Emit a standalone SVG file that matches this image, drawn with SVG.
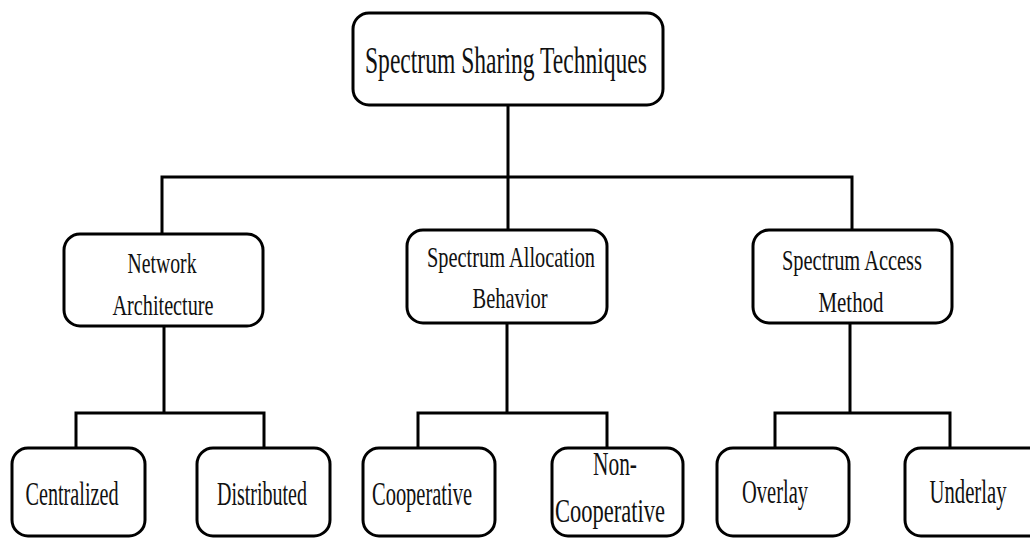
<svg xmlns="http://www.w3.org/2000/svg" width="1030" height="538" viewBox="0 0 1030 538">
<style>
.box{fill:#fff;stroke:#000;stroke-width:3}
.ln{fill:none;stroke:#000;stroke-width:3;stroke-linecap:square}
text{font-family:"Liberation Serif","Times New Roman",serif;fill:#111;text-anchor:middle}
.t0{font-size:38px}
.t1{font-size:30px}
.t2{font-size:33px}
</style>
<rect width="1030" height="538" fill="#fff"/>
<g id="connectors">
<path class="ln" d="M508 105V177M162 177H852M162 177V234M508 177V230M852 177V230"/>
<path class="ln" d="M164 326V413M76 413H264M76 413V448M264 413V448"/>
<path class="ln" d="M507 323V413M418 413H607M418 413V448M607 413V448"/>
<path class="ln" d="M850 323V413M775 413H950M775 413V450M950 413V448"/>
</g>
<g id="root">
<rect class="box" x="353" y="13" width="310" height="92" rx="16"/>
<text class="t0" x="506" y="73" textLength="282" lengthAdjust="spacingAndGlyphs">Spectrum Sharing Techniques</text>
</g>
<g id="network">
<rect class="box" x="64" y="234" width="199" height="92" rx="16"/>
<text class="t1" x="162" y="273" textLength="69" lengthAdjust="spacingAndGlyphs">Network</text>
<text class="t1" x="163" y="315" textLength="101" lengthAdjust="spacingAndGlyphs">Architecture</text>
</g>
<g id="allocation">
<rect class="box" x="407" y="230" width="200" height="93" rx="16"/>
<text class="t1" x="511" y="267" textLength="168" lengthAdjust="spacingAndGlyphs">Spectrum Allocation</text>
<text class="t1" x="510" y="308" textLength="75" lengthAdjust="spacingAndGlyphs">Behavior</text>
</g>
<g id="access">
<rect class="box" x="753" y="230" width="199" height="93" rx="16"/>
<text class="t1" x="852" y="270" textLength="140" lengthAdjust="spacingAndGlyphs">Spectrum Access</text>
<text class="t1" x="851" y="312" textLength="65" lengthAdjust="spacingAndGlyphs">Method</text>
</g>
<g id="centralized">
<rect class="box" x="12" y="448" width="133" height="88" rx="16"/>
<text class="t2" x="72" y="505" textLength="93" lengthAdjust="spacingAndGlyphs">Centralized</text>
</g>
<g id="distributed">
<rect class="box" x="197" y="448" width="133" height="88" rx="16"/>
<text class="t2" x="262" y="505" textLength="90" lengthAdjust="spacingAndGlyphs">Distributed</text>
</g>
<g id="cooperative">
<rect class="box" x="363" y="448" width="132" height="88" rx="16"/>
<text class="t2" x="422" y="505" textLength="100" lengthAdjust="spacingAndGlyphs">Cooperative</text>
</g>
<g id="noncooperative">
<rect class="box" x="552" y="448" width="131" height="88" rx="16"/>
<text class="t2" x="615" y="475" textLength="44" lengthAdjust="spacingAndGlyphs">Non-</text>
<text class="t2" x="610" y="522" textLength="110" lengthAdjust="spacingAndGlyphs">Cooperative</text>
</g>
<g id="overlay">
<rect class="box" x="717" y="448" width="132" height="88" rx="16"/>
<text class="t2" x="775" y="503" textLength="66" lengthAdjust="spacingAndGlyphs">Overlay</text>
</g>
<g id="underlay">
<rect class="box" x="905" y="448" width="140" height="88" rx="16"/>
<text class="t2" x="968" y="503" textLength="77" lengthAdjust="spacingAndGlyphs">Underlay</text>
</g>
</svg>
